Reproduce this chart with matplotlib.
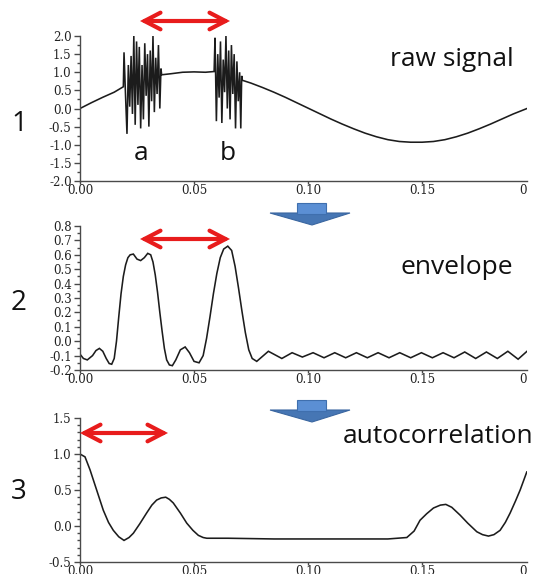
import matplotlib
matplotlib.use("Agg")
import matplotlib.pyplot as plt
from matplotlib.patches import FancyArrowPatch, Polygon
from matplotlib.ticker import MultipleLocator, FixedLocator, FixedFormatter

plt.rcParams["axes.unicode_minus"] = False

# ---------------- data ----------------
# raw signal: slow sine with two short high-frequency bursts (a, b)
raw_t = [0.0000, 0.0050, 0.0100, 0.0150, 0.0190,
         0.0193, 0.0200, 0.0206, 0.0212, 0.0218, 0.0224, 0.0230, 0.0236, 0.0242, 0.0248,
         0.0254, 0.0260, 0.0266, 0.0272, 0.0278, 0.0284, 0.0290, 0.0296, 0.0302, 0.0308,
         0.0314, 0.0320, 0.0326, 0.0332, 0.0338, 0.0344, 0.0350, 0.0355, 0.0358,
         0.0400, 0.0450, 0.0500, 0.0550, 0.0588,
         0.0592, 0.0598, 0.0604, 0.0610, 0.0616, 0.0622, 0.0628, 0.0634, 0.0640, 0.0646,
         0.0652, 0.0658, 0.0664, 0.0670, 0.0676, 0.0682, 0.0688, 0.0694, 0.0700, 0.0705,
         0.0709, 0.0711,
         0.0750, 0.0800, 0.0850, 0.0900, 0.0950, 0.1000, 0.1050, 0.1100, 0.1150, 0.1200,
         0.1250, 0.1300, 0.1350, 0.1400, 0.1450, 0.1500, 0.1550, 0.1600, 0.1650, 0.1700,
         0.1750, 0.1800, 0.1850, 0.1900, 0.1960]
raw_v = [0.00, 0.16, 0.31, 0.45, 0.60,
         1.55, 0.30, -0.70, 1.20, 0.05, 1.45, -0.15, 2.00, -0.45, 1.85,
         0.10, 1.70, -0.55, 1.20, -0.30, 1.80, 0.35, 1.50, -0.50, 1.60,
         0.20, 2.00, -0.10, 1.40, 0.40, 1.75, 0.00, 1.10, 0.93,
         0.96, 1.00, 1.01, 1.00, 1.02,
         1.95, -0.35, 1.50, 0.30, 1.85, -0.40, 1.35, 0.45, 2.00, 0.00,
         1.60, -0.30, 1.75, 0.40, 1.50, -0.55, 1.30, 0.20, 1.00, -0.55,
         0.90, 0.78,
         0.70, 0.58, 0.45, 0.31, 0.16, 0.01, -0.14, -0.29, -0.43, -0.56,
         -0.68, -0.78, -0.86, -0.91, -0.93, -0.93, -0.91, -0.86, -0.78, -0.68,
         -0.56, -0.43, -0.29, -0.15, 0.00]

# envelope of the raw signal
env_t = [0.0000, 0.0015, 0.0032, 0.0055, 0.0070, 0.0085, 0.0100, 0.0115, 0.0128, 0.0139,
         0.0150, 0.0160, 0.0170, 0.0180, 0.0190, 0.0200, 0.0210, 0.0220, 0.0234, 0.0250,
         0.0266, 0.0282, 0.0297, 0.0310, 0.0320, 0.0330, 0.0340, 0.0350, 0.0360, 0.0370,
         0.0380, 0.0392, 0.0405, 0.0420, 0.0440, 0.0461, 0.0480, 0.0500, 0.0522, 0.0540,
         0.0555, 0.0570, 0.0585, 0.0600, 0.0615, 0.0630, 0.0648, 0.0665, 0.0680, 0.0695,
         0.0710, 0.0725, 0.0740, 0.0755, 0.0775, 0.0826, 0.0885, 0.0930, 0.0975, 0.1022,
         0.1070, 0.1117, 0.1165, 0.1212, 0.1260, 0.1307, 0.1355, 0.1402, 0.1450, 0.1497,
         0.1545, 0.1592, 0.1640, 0.1687, 0.1735, 0.1782, 0.1830, 0.1876, 0.1921, 0.1960]
env_v = [-0.09, -0.12, -0.13, -0.10, -0.065, -0.05, -0.07, -0.12, -0.155, -0.16,
         -0.12, 0.00, 0.17, 0.33, 0.45, 0.53, 0.58, 0.60, 0.605, 0.57,
         0.56, 0.58, 0.61, 0.60, 0.55, 0.46, 0.34, 0.20, 0.07, -0.05,
         -0.13, -0.165, -0.17, -0.13, -0.06, -0.04, -0.08, -0.14, -0.15, -0.10,
         0.02, 0.17, 0.33, 0.47, 0.58, 0.64, 0.66, 0.63, 0.52, 0.37,
         0.21, 0.06, -0.06, -0.12, -0.14, -0.07, -0.12, -0.08, -0.11, -0.08,
         -0.115, -0.08, -0.115, -0.08, -0.115, -0.08, -0.115, -0.08, -0.115, -0.08,
         -0.115, -0.08, -0.115, -0.075, -0.12, -0.075, -0.12, -0.07, -0.125, -0.07]

# autocorrelation of the envelope
acf_t = [0.0000, 0.0022, 0.0044, 0.0073, 0.0102, 0.0125, 0.0146, 0.0170, 0.0193, 0.0215,
         0.0234, 0.0262, 0.0292, 0.0315, 0.0336, 0.0356, 0.0376, 0.0392, 0.0409, 0.0440,
         0.0468, 0.0495, 0.0519, 0.0540, 0.0556, 0.0650, 0.0750, 0.0850, 0.1000, 0.1200,
         0.1350, 0.1433, 0.1465, 0.1491, 0.1520, 0.1550, 0.1580, 0.1604, 0.1630, 0.1667,
         0.1700, 0.1740, 0.1765, 0.1791, 0.1815, 0.1842, 0.1865, 0.1886, 0.1910, 0.1930,
         0.1959]
acf_v = [1.00, 0.96, 0.78, 0.50, 0.22, 0.05, -0.06, -0.15, -0.20, -0.16,
         -0.10, 0.03, 0.18, 0.29, 0.36, 0.39, 0.40, 0.37, 0.32, 0.18,
         0.04, -0.06, -0.13, -0.16, -0.17, -0.17, -0.175, -0.18, -0.18, -0.18,
         -0.18, -0.16, -0.07, 0.08, 0.17, 0.25, 0.29, 0.30, 0.26, 0.15,
         0.04, -0.08, -0.12, -0.14, -0.12, -0.06, 0.05, 0.18, 0.35, 0.50,
         0.75]

x_ticks = [0.00, 0.05, 0.10, 0.15]
x_tick_labels = ["0.00", "0.05", "0.10", "0.15"]

panel_numbers = ["1", "2", "3"]
panel_titles = ["raw signal", "envelope", "autocorrelation"]

# ---------------- layout ----------------
W, H = 537, 574
fig = plt.figure(figsize=(W / 100, H / 100), dpi=100)
fig.patch.set_facecolor("white")


def fx(px):
    return px / W


def fy(py):
    return 1 - py / H


tick_family = "DejaVu Serif"
tick_size = 8.5
label_font = "Open Sans"
line_col = "#1c1c1c"
spine_col = "#4a4a4a"

panels = [
    # (top px, bottom px, ylim, major step, minor step, t, v)
    (36, 181, (-2.0, 2.0), 0.5, 0.25, raw_t, raw_v),
    (226, 370, (-0.2, 0.8), 0.1, 0.05, env_t, env_v),
    (418, 562, (-0.5, 1.5), 0.5, 0.1, acf_t, acf_v),
]

left_px, right_px = 80, 527
for top, bot, ylim, major, minor, t, v in panels:
    ax = fig.add_axes([fx(left_px), fy(bot), fx(right_px) - fx(left_px), (bot - top) / H])
    ax.plot(t, v, color=line_col, lw=1.15, solid_joinstyle="miter")
    ax.set_xlim(0, 0.196)
    ax.set_ylim(*ylim)
    for s in ("top", "right"):
        ax.spines[s].set_visible(False)
    for s in ("left", "bottom"):
        ax.spines[s].set_color(spine_col)
        ax.spines[s].set_linewidth(1.0)
    ax.yaxis.set_major_locator(MultipleLocator(major))
    ax.yaxis.set_minor_locator(MultipleLocator(minor))
    ax.yaxis.set_major_formatter(plt.FuncFormatter(lambda y, p: f"{y:.1f}"))
    ax.xaxis.set_major_locator(FixedLocator(x_ticks))
    ax.xaxis.set_major_formatter(FixedFormatter(x_tick_labels))
    ax.tick_params(axis="y", which="major", length=4, width=1.0, color=spine_col,
                   pad=2, labelsize=tick_size, labelcolor="#222222")
    ax.tick_params(axis="x", which="major", length=2, width=1.0, color=spine_col,
                   pad=0.5, labelsize=tick_size, labelcolor="#222222")
    ax.tick_params(axis="y", which="minor", length=2.5, width=1.0, color=spine_col)
    for lab in ax.get_xticklabels() + ax.get_yticklabels():
        lab.set_family(tick_family)
    # first digit of the cut-off 0.20 label at the right edge
    ax.annotate("0", xy=(1.0, 0.0), xycoords="axes fraction", xytext=(0, -2.5),
                textcoords="offset points", ha="right", va="top",
                fontsize=tick_size, family=tick_family, color="#222222")
    ax.patch.set_alpha(0)

# panel numbers and titles
num_pos = [(19, 124), (19, 303), (19, 492)]
for (x, y), s in zip(num_pos, panel_numbers):
    fig.text(fx(x), fy(y), s, ha="center", va="center", family=label_font,
             fontsize=20, color="#111111")

title_pos = [(390, 66), (400, 274), (343, 443)]
for (x, y), s in zip(title_pos, panel_titles):
    fig.text(fx(x), fy(y), s, ha="left", va="baseline", family=label_font,
             fontsize=19, color="#111111")

# burst labels
fig.text(fx(141), fy(160), "a", ha="center", va="baseline", family=label_font,
         fontsize=19, color="#111111")
fig.text(fx(228), fy(160), "b", ha="center", va="baseline", family=label_font,
         fontsize=19, color="#111111")

# red double-headed arrows showing the period
red_arrows = [((140, 21), (230, 21)), ((140, 239), (230, 239)), ((80, 433), (168, 433))]
for (x0, y0), (x1, y1) in red_arrows:
    arr = FancyArrowPatch((fx(x0), fy(y0)), (fx(x1), fy(y1)), transform=fig.transFigure,
                          arrowstyle="<->,head_length=1.15,head_width=0.6",
                          mutation_scale=10, lw=3.0, color="#e81c1c",
                          shrinkA=0, shrinkB=0, capstyle="round", joinstyle="miter")
    fig.add_artist(arr)

# blue block arrows between panels
for top in (203, 400):
    head_y = top + 10
    tip_y = top + 22
    head = Polygon([(fx(270), fy(head_y)), (fx(350), fy(head_y)), (fx(312), fy(tip_y))],
                   closed=True, transform=fig.transFigure, facecolor="#4676b4",
                   edgecolor="#3a66a0", lw=0.8)
    shaft = Polygon([(fx(297), fy(top)), (fx(326), fy(top)), (fx(326), fy(head_y + 1)),
                     (fx(297), fy(head_y + 1))],
                    closed=True, transform=fig.transFigure, facecolor="#5b8fd4",
                    edgecolor="#3f6fae", lw=0.8)
    fig.add_artist(head)
    fig.add_artist(shaft)

fig.savefig("out.png", dpi=100, facecolor="white")
